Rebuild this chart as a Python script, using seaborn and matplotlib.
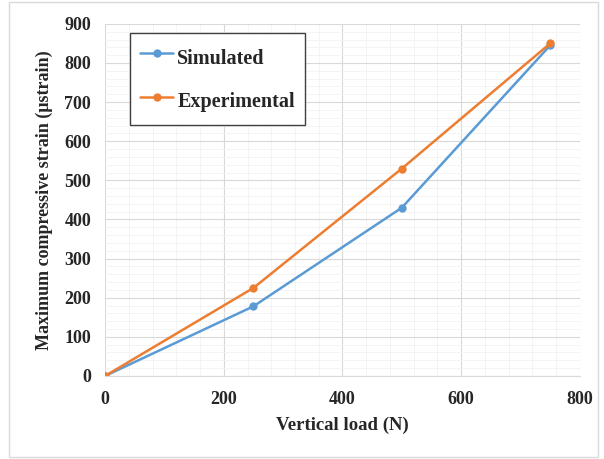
import matplotlib.pyplot as plt
import seaborn as sns
import pandas as pd
import numpy as np
from matplotlib.patches import Rectangle
from matplotlib.ticker import MultipleLocator

# data
loads = [0, 250, 500, 750]
simulated = [0, 178, 430, 845]
experimental = [0, 225, 530, 850]
series_names = ["Simulated", "Experimental"]
colors = ["#5B9BD5", "#ED7D31"]

df = pd.DataFrame({
    "load": loads * 2,
    "strain": simulated + experimental,
    "series": [series_names[0]] * len(loads) + [series_names[1]] * len(loads),
})

sns.set_style("white")
plt.rcParams["font.family"] = ["Liberation Serif", "DejaVu Serif"]
plt.rcParams["font.weight"] = "bold"

fig = plt.figure(figsize=(6.04, 4.59), dpi=100)
ax = fig.add_axes([0.174, 0.181, 0.786, 0.767])

sns.lineplot(data=df, x="load", y="strain", hue="series", palette=colors,
             marker="o", markersize=6, markeredgewidth=0, linewidth=1.8,
             ax=ax)

ax.set_xlim(0, 800)
ax.set_ylim(0, 900)
ax.xaxis.set_major_locator(MultipleLocator(200))
ax.yaxis.set_major_locator(MultipleLocator(100))
ax.xaxis.set_minor_locator(MultipleLocator(40))
ax.yaxis.set_minor_locator(MultipleLocator(20))
ax.grid(which="major", color="#d9d9d9", linewidth=0.8)
ax.grid(which="minor", color="#f3f3f3", linewidth=0.6)
ax.set_axisbelow(True)
for s in ["top", "right", "left"]:
    ax.spines[s].set_visible(False)
ax.spines["bottom"].set_color("#d9d9d9")
ax.tick_params(which="both", length=0, labelsize=13)
ax.tick_params(axis="x", pad=11)
ax.tick_params(axis="y", pad=10)
for lab in ax.get_xticklabels() + ax.get_yticklabels():
    lab.set_fontweight("bold")

ax.set_xlabel("Vertical load (N)", fontsize=13.5, fontweight="bold", labelpad=6)
ax.set_ylabel("Maximum compressive strain (μstrain)", fontsize=13,
              fontweight="bold", labelpad=8)

leg = ax.legend(loc="upper left", bbox_to_anchor=(0.053, 0.974),
                frameon=True, fancybox=False, framealpha=1,
                edgecolor="#404040", fontsize=14.5, labelspacing=0.75,
                handlelength=1.64, handleheight=1.8, handletextpad=0.2,
                borderpad=0.5, borderaxespad=0)
leg.get_frame().set_linewidth(1.0)
for t in leg.get_texts():
    t.set_fontweight("bold")

# light border around the whole chart
fig.patches.append(Rectangle((0.015, 0.005), 0.975, 0.99, transform=fig.transFigure,
                             fill=False, edgecolor="#d9d9d9", linewidth=1))

plt.savefig("out.png", dpi=100)
plt.close("all")
